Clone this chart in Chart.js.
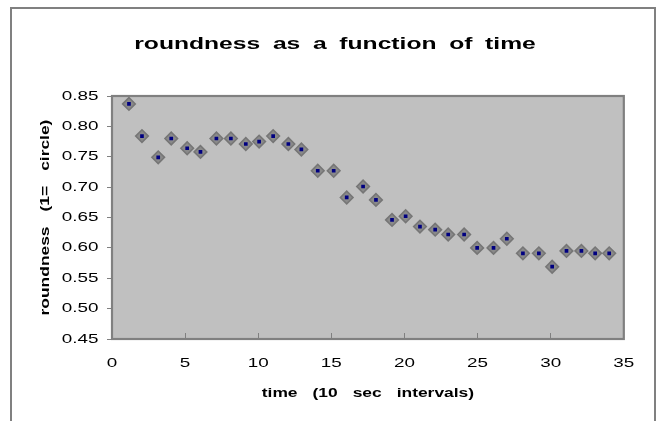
<!DOCTYPE html>
<html><head><meta charset="utf-8">
<script src="https://cdn.jsdelivr.net/npm/chart.js@4.4.1/dist/chart.umd.min.js"></script>
<style>html,body{margin:0;padding:0;background:#fff;}canvas{display:block;}</style>
</head><body>
<canvas id="c" width="657" height="421"></canvas>
<script>
// ---- data ----
const titleText = 'roundness as a function of time';
const xAxisTitle = 'time (10 sec intervals)';
const yAxisTitle = 'roundness (1= circle)';
const timeValues = [1.16, 2.05, 3.16, 4.05, 5.14, 6.05, 7.14, 8.13, 9.15, 10.06, 11.02, 12.06, 12.95, 14.07, 15.16, 16.05, 17.17, 18.05, 19.15, 20.08, 21.06, 22.1, 22.99, 24.08, 24.97, 26.09, 27.0, 28.1, 29.19, 30.1, 31.08, 32.1, 33.04, 34.0];
const roundnessValues = [0.837, 0.784, 0.749, 0.780, 0.764, 0.758, 0.780, 0.780, 0.771, 0.775, 0.784, 0.771, 0.762, 0.727, 0.727, 0.683, 0.701, 0.679, 0.646, 0.652, 0.635, 0.630, 0.622, 0.622, 0.600, 0.600, 0.615, 0.591, 0.591, 0.569, 0.595, 0.595, 0.591, 0.591];
const xTickValues = [0, 5, 10, 15, 20, 25, 30, 35];
const yTickLabels = ['0.45', '0.50', '0.55', '0.60', '0.65', '0.70', '0.75', '0.80', '0.85'];

const points = timeValues.map((t, i) => ({x: t, y: roundnessValues[i]}));

// ---- wide text rendering (text is stretched along its direction, as in the reference) ----
const SX = 1.45;
const canvas = document.getElementById('c');
const ctx = canvas.getContext('2d');
const origFill = ctx.fillText.bind(ctx);
const origMeasure = ctx.measureText.bind(ctx);
function fontSize() { const m = /(\d+(?:\.\d+)?)px/.exec(ctx.font); return m ? parseFloat(m[1]) : 12; }
function wordSp() { return fontSize() > 14 ? '4px' : '7px'; }
ctx.fillText = function (t, x, y) {
  ctx.save();
  ctx.translate(x, y);
  ctx.scale(SX, 1);
  if (String(t).indexOf(' ') >= 0) ctx.wordSpacing = wordSp();
  origFill(t, 0, 0);
  ctx.restore();
};
ctx.measureText = function (t) {
  const prev = ctx.wordSpacing;
  if (String(t).indexOf(' ') >= 0) ctx.wordSpacing = wordSp();
  const m = origMeasure(t);
  ctx.wordSpacing = prev;
  return {width: m.width * SX, actualBoundingBoxAscent: m.actualBoundingBoxAscent, actualBoundingBoxDescent: m.actualBoundingBoxDescent,
          actualBoundingBoxLeft: m.actualBoundingBoxLeft * SX, actualBoundingBoxRight: m.actualBoundingBoxRight * SX};
};

Chart.defaults.font.family = "'Liberation Sans', Arial, sans-serif";
Chart.defaults.color = '#000';

const framePlugin = {
  id: 'frame',
  afterLayout(chart) {
    chart.titleBlock.left = 46;
  },
  beforeDraw(chart) {
    const c = chart.ctx, a = chart.chartArea;
    c.save();
    c.fillStyle = '#fff';
    c.fillRect(0, 0, chart.width, chart.height);
    c.strokeStyle = '#808080';
    c.lineWidth = 2;
    c.strokeRect(11, 8, 644, 430);
    c.fillStyle = '#c0c0c0';
    c.fillRect(a.left, a.top, a.right - a.left, a.bottom - a.top);
    c.restore();
  },
  beforeDatasetsDraw(chart) {
    const c = chart.ctx, a = chart.chartArea;
    c.save();
    c.strokeStyle = '#808080';
    c.lineWidth = 2.2;
    c.strokeRect(a.left, a.top, a.right - a.left, a.bottom - a.top);
    c.restore();
  }
};

new Chart(ctx, {
  type: 'scatter',
  data: {
    datasets: [
      {data: points, order: 2, pointStyle: 'rectRot', radius: 6.3, hoverRadius: 6.3, backgroundColor: '#8a8a8a', borderColor: '#767676', borderWidth: 1.6, showLine: false},
      {data: points, order: 1, pointStyle: 'rect', radius: 2.6, hoverRadius: 2.6, backgroundColor: '#000080', borderColor: '#000080', borderWidth: 0, showLine: false}
    ]
  },
  options: {
    responsive: false,
    animation: false,
    devicePixelRatio: 1,
    events: [],
    layout: {padding: {left: 0, right: 33, top: 0, bottom: 0}},
    plugins: {
      legend: {display: false},
      tooltip: {enabled: false},
      title: {display: true, text: titleText, color: '#000', font: {size: 17, weight: 'bold'}, padding: {top: 34, bottom: 41.6}}
    },
    scales: {
      x: {
        type: 'linear', min: 0, max: 35,
        afterBuildTicks(s) { s.ticks = xTickValues.map(v => ({value: v})); },
        ticks: {color: '#000', font: {size: 13}, padding: 22.7, maxRotation: 0, autoSkip: false},
        grid: {drawOnChartArea: false, tickLength: -6, color: '#808080', lineWidth: 1},
        border: {display: false},
        title: {display: true, text: xAxisTitle, color: '#000', font: {size: 12, weight: 'bold'}, padding: {top: 0, bottom: 20.5}},
        afterFit(s) { s.height = 82; }
      },
      y: {
        type: 'linear', min: 0.45, max: 0.85,
        afterBuildTicks(s) { s.ticks = yTickLabels.map(l => ({value: parseFloat(l)})); },
        ticks: {color: '#000', font: {size: 13}, padding: 8.5, callback: (v, i) => yTickLabels[i]},
        grid: {drawOnChartArea: false, tickLength: 5, color: '#808080', lineWidth: 1},
        border: {display: false},
        title: {display: true, text: yAxisTitle, color: '#000', font: {size: 12, weight: 'bold'}, padding: {top: 38, bottom: 0}},
        afterFit(s) { s.width = 112; }
      }
    }
  },
  plugins: [framePlugin]
});
</script>
</body></html>
